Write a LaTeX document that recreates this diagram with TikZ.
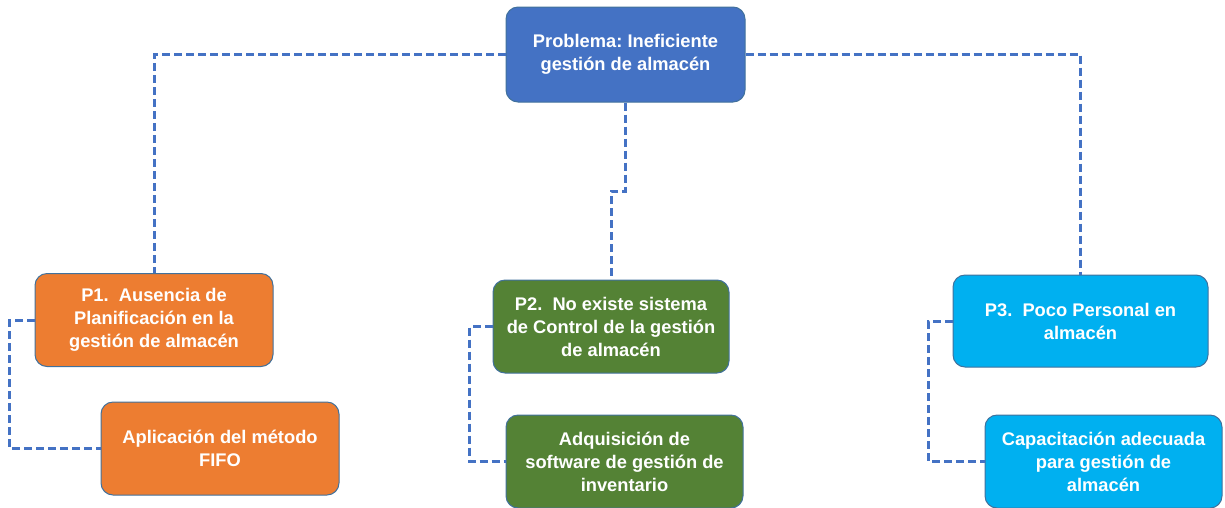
\documentclass[tikz,border=0pt]{standalone}
\usepackage{fontspec}
\setmainfont{Liberation Sans}
\usetikzlibrary{positioning}
\frenchspacing

\definecolor{linkblue}{HTML}{4472C4}
\definecolor{boxedge}{HTML}{41719C}
\definecolor{topblue}{HTML}{4472C4}
\definecolor{pone}{HTML}{ED7D31}
\definecolor{ptwo}{HTML}{548235}
\definecolor{pthree}{HTML}{00B0F0}

\begin{document}
\begin{tikzpicture}[x=1pt,y=1pt,
  box/.style={draw=boxedge,line width=1pt,rounded corners=12pt,text=white,
    font=\bfseries\fontsize{18.3}{23}\selectfont,align=center,inner sep=0pt,
    minimum width=238pt,minimum height=93pt},
  link/.style={draw=linkblue,line width=3pt,dash pattern=on 8pt off 4pt}]
\useasboundingbox (0,0) rectangle (1225,-507);

% problem
\node[box,fill=topblue,minimum width=239pt,minimum height=95pt] (prob) at (625.5,-54.5)
  {Problema: Ineficiente\\gestión de almacén};

% causes
\node[box,fill=pone] (p1) at (154,-320) {P1.~ Ausencia de\\Planificación en la\\gestión de almacén};
\node[box,fill=ptwo,minimum width=236pt] (p2) at (611,-326.5) {P2.~ No existe sistema\\de Control de la gestión\\de almacén};
\node[box,fill=pthree,minimum width=255pt,minimum height=92pt] (p3) at (1080.5,-321) {P3.~ Poco Personal en\\almacén};

% solutions
\node[box,fill=pone] (s1) at (220,-448.5) {Aplicación del método\\FIFO};
\node[box,fill=ptwo,minimum width=237pt] (s2) at (624.5,-461.5) {Adquisición de\\software de gestión de\\inventario};
\node[box,fill=pthree,minimum width=237pt] (s3) at (1103.5,-461.5) {Capacitación adecuada\\para gestión de\\almacén};

% links
\coordinate (bend) at (625.5,-191);
\draw[link] (prob.west) -| (p1.north);
\draw[link] (prob.east) -| (p3.north);
\draw[link] (prob.south) -- (bend) -| (p2.north);
\draw[link] (p1.west) -- ++(-25,0) |- (s1.west);
\draw[link] (p2.west) -- ++(-23,0) |- (s2.west);
\draw[link] (p3.west) -- ++(-24,0) |- (s3.west);
\end{tikzpicture}
\end{document}
